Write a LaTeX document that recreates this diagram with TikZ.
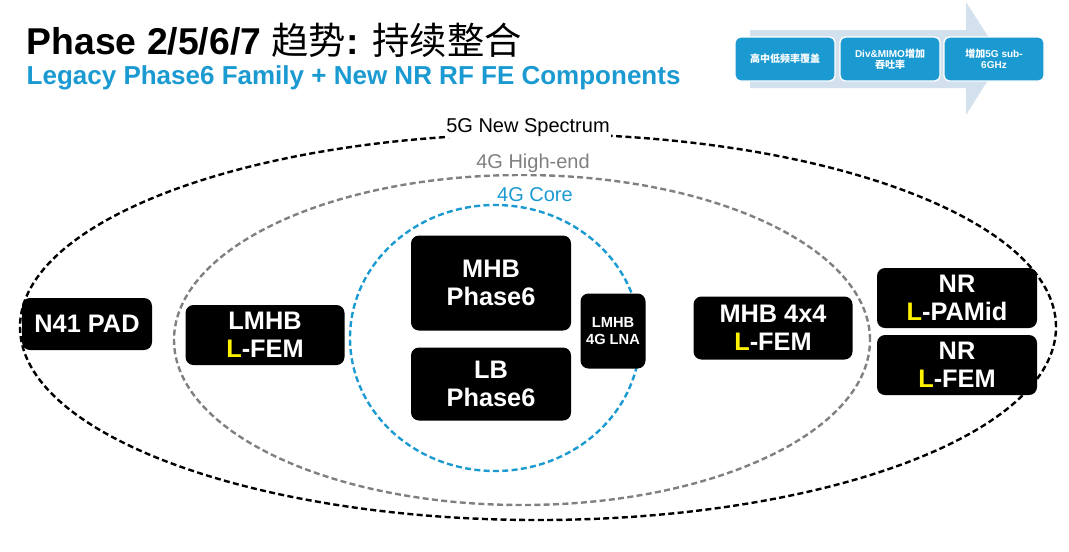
\documentclass[tikz,border=0pt]{standalone}
\usepackage{fontspec}
\setmainfont{Liberation Sans}
\newfontfamily\cjk{Noto Sans CJK SC}
\usetikzlibrary{shapes.geometric}
\definecolor{tblue}{HTML}{1B9AD2}
\definecolor{abg}{HTML}{D3E1EF}
\tikzset{
 blk/.style={fill=black,rounded corners=6pt,text=white,font=\bfseries\fontsize{19}{21}\selectfont,align=center,inner sep=0pt},
 abox/.style={fill=tblue,rounded corners=4pt,text=white,font=\bfseries\fontsize{7.5}{8.5}\selectfont,align=center,inner sep=0pt,draw=white,line width=1pt},
 ell/.style={ellipse,line width=1.8pt,dash pattern=on 4.5pt off 2.5pt},
}
\newcommand{\Y}{\textcolor{yellow}{L}}
\begin{document}
\begin{tikzpicture}[x=0.75pt,y=-0.75pt]
\useasboundingbox (0,0) rectangle (1069,551);
% title
\node[anchor=west,font=\bfseries\fontsize{28}{32}\selectfont] (t) at (22,40) {Phase 2/5/6/7 {\cjk\mdseries 趋势}: {\cjk\mdseries 持续整合}};
\node[anchor=west,text=tblue,font=\bfseries\fontsize{19.5}{22}\selectfont] (st) at (22,78) {Legacy Phase6 Family + New NR RF FE Components};
% arrow
\fill[abg] (750,30) -- (966,30) -- (966,2) -- (1002,58) -- (966,115) -- (966,88) -- (750,88) -- cycle;
\node[abox,minimum width=100*0.75pt,minimum height=44*0.75pt] (a1) at (785,59) {\cjk 高中低频率覆盖};
\node[abox,minimum width=100*0.75pt,minimum height=44*0.75pt] (a2) at (890,59) {Div\&MIMO{\cjk 增加}\\{\cjk 吞吐率}};
\node[abox,minimum width=100*0.75pt,minimum height=44*0.75pt] (a3) at (994,59) {{\cjk 增加}5G sub-\\6GHz};
% ellipses
\node[ell,draw=black,minimum width=1036*0.75pt,minimum height=386*0.75pt] (e1) at (538,327) {};
\node[ell,draw=gray,minimum width=696*0.75pt,minimum height=330*0.75pt] (e2) at (522,340) {};
\node[ell,draw=tblue,minimum width=290*0.75pt,minimum height=266*0.75pt] (e3) at (495,338) {};
\node[fill=white,inner sep=1pt,font=\fontsize{15}{17}\selectfont] (l1) at (528,128) {5G New Spectrum};
\node[fill=white,inner sep=1pt,text=gray,font=\fontsize{15}{17}\selectfont] (l2) at (533,163) {4G High-end};
\node[fill=white,inner sep=1pt,text=tblue,font=\fontsize{15}{17}\selectfont] (l3) at (535,195) {4G Core};
% boxes
\node[blk,minimum width=130*0.75pt,minimum height=52*0.75pt] (b1) at (87,324) {N41 PAD};
\node[blk,minimum width=159*0.75pt,minimum height=60*0.75pt] (b2) at (265,335) {LMHB\\\Y-FEM};
\node[blk,minimum width=160*0.75pt,minimum height=95*0.75pt] (b3) at (491,283) {MHB\\Phase6};
\node[blk,minimum width=160*0.75pt,minimum height=73*0.75pt] (b4) at (491,384) {LB\\Phase6};
\node[blk,minimum width=65*0.75pt,minimum height=75*0.75pt,font=\bfseries\fontsize{11}{13}\selectfont] (b5) at (613,331) {LMHB\\4G LNA};
\node[blk,minimum width=159*0.75pt,minimum height=63*0.75pt] (b6) at (773,328) {MHB 4x4\\\Y-FEM};
\node[blk,minimum width=160*0.75pt,minimum height=60*0.75pt] (b7) at (957,298) {NR\\\Y-PAMid};
\node[blk,minimum width=160*0.75pt,minimum height=60*0.75pt] (b8) at (957,365) {NR\\\Y-FEM};
\end{tikzpicture}
\end{document}
